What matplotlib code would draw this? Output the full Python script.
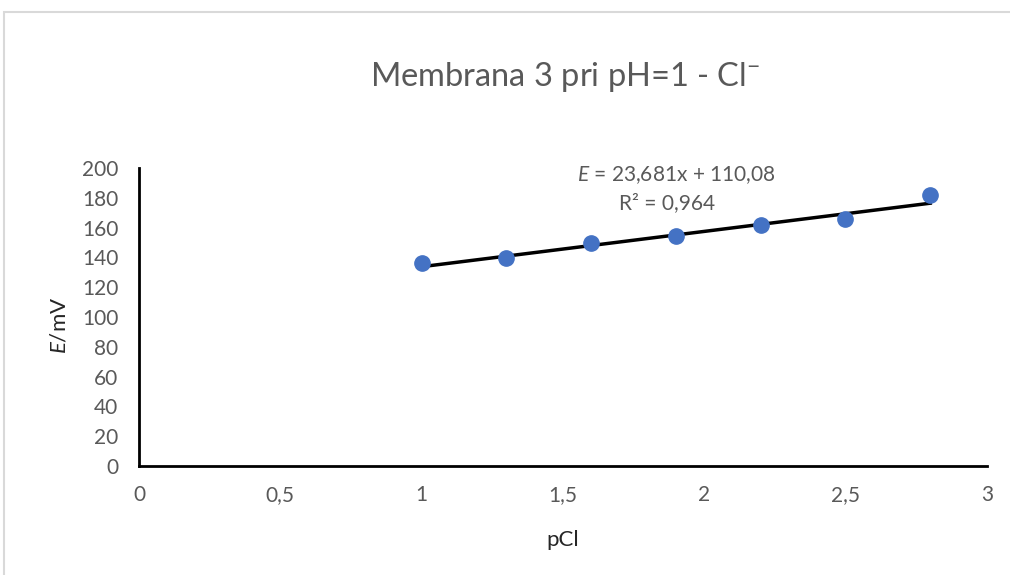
import matplotlib
matplotlib.use("Agg")
import numpy as np
import matplotlib.pyplot as plt
from matplotlib.patches import Rectangle
from matplotlib.ticker import FuncFormatter, MultipleLocator

pcl = [1.0, 1.3, 1.6, 1.9, 2.2, 2.5, 2.8]
e_mv = [136.2, 139.6, 149.7, 154.4, 161.7, 165.8, 181.9]
slope = 23.681
intercept = 110.08
r_squared = "0,964"

plt.rcParams['font.family'] = ['Lato', 'DejaVu Sans']
plt.rcParams['mathtext.fontset'] = 'custom'
plt.rcParams['mathtext.rm'] = 'Lato'
plt.rcParams['mathtext.it'] = 'Lato:italic'

gray = '#595959'

fig = plt.figure(figsize=(10.1, 5.75), dpi=100)
ax = fig.add_axes([0.1376, 0.1896, 0.8394, 0.5182])

# outer chart-area border (only top and left visible in reference)
fig.patches.append(Rectangle((0.004, -0.1), 1.2, 1.0787, transform=fig.transFigure,
                             fill=False, edgecolor='#d9d9d9', lw=1.5))

fit_x = np.array([min(pcl), max(pcl)])
ax.plot(fit_x, slope*fit_x + intercept, color='black', lw=2.5, zorder=2)
ax.plot(pcl, e_mv, 'o', color='#4472C4', markersize=11, zorder=3)

ax.set_xlim(0, 3)
ax.set_ylim(0, 200)
ax.xaxis.set_major_locator(MultipleLocator(0.5))
ax.yaxis.set_major_locator(MultipleLocator(20))
ax.xaxis.set_major_formatter(FuncFormatter(lambda v, p: f"{v:g}".replace('.', ',')))
ax.tick_params(length=0, labelsize=15, labelcolor=gray)
ax.tick_params(axis='x', pad=14)
ax.tick_params(axis='y', pad=15)
for side in ['top', 'right']:
    ax.spines[side].set_visible(False)
for side in ['left', 'bottom']:
    ax.spines[side].set_linewidth(2)
    ax.spines[side].set_color('black')

fig.text(563/1010, 1 - 540/575, "pCl", ha='center', va='center', fontsize=16, color='#262626')
fig.text(60/1010, 1 - 325/575, "$E$/mV", ha='center', va='center', rotation=90,
         fontsize=16, color='#262626')
fig.text(565/1010, 1 - 77/575, "Membrana 3 pri pH=1 - Cl$^{-}$", ha='center', va='center',
         fontsize=23.5, color=gray)

ax.text(1.9, 195, f"$E$ = {slope:.3f}x + {intercept:.2f}".replace('.', ','),
        ha='center', va='center', fontsize=15, color=gray)
ax.text(1.87, 176.5, f"R² = {r_squared}", ha='center', va='center',
        fontsize=15, color=gray)

fig.savefig("out.png", dpi=100)
